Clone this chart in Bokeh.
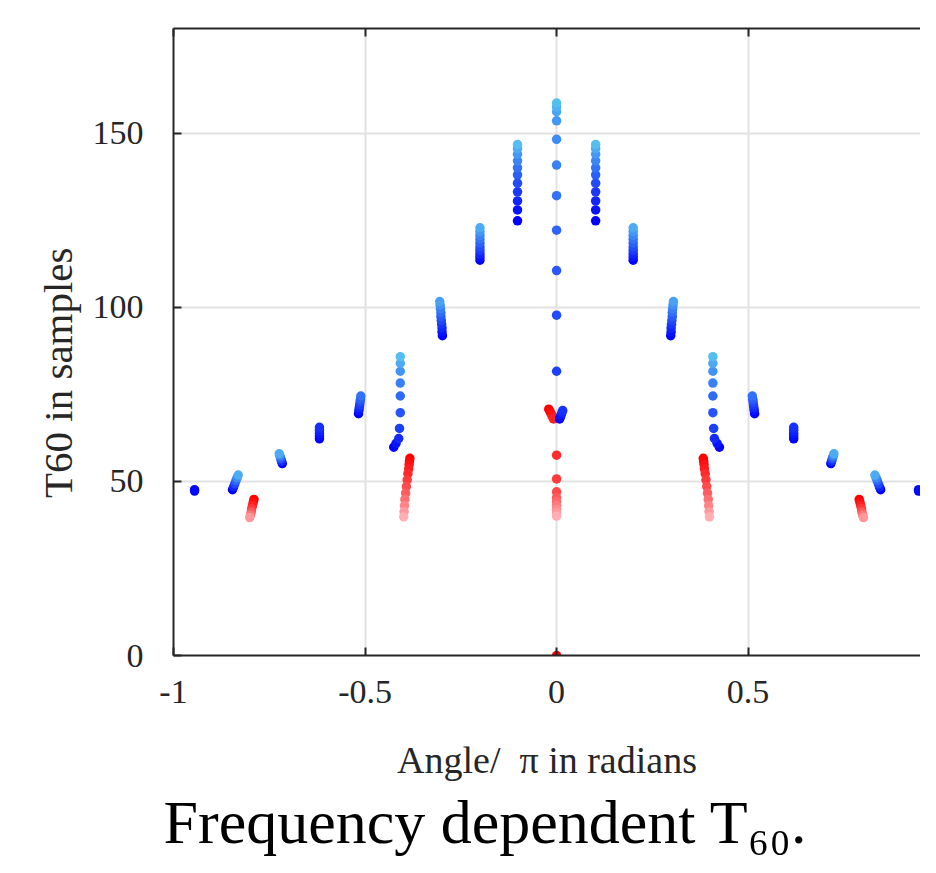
import math
from bokeh.plotting import figure
from bokeh.models import (Range1d, FixedTicker, LinearAxis, NumeralTickFormatter, ColumnDataSource,
                          Title, CustomJSTickFormatter)
from bokeh.embed import file_html
from bokeh.resources import INLINE

# ---------------- data (angle / pi, T60 in samples) ----------------
x_ticks = [-1, -0.5, 0, 0.5]
y_ticks = [0, 50, 100, 150]

# centre column (angle 0)
c_blue_x = [0.008, 0.010, 0.012, 0.014, 0.016, 0, 0, 0, 0, 0, 0, 0, 0, 0, 0, 0]
c_blue_y = [67.9, 68.5, 69.1, 69.7, 70.3, 81.6, 97.7, 110.5, 122.1, 132.0, 140.8, 148.2, 153.5, 156.1, 157.5, 158.6]
c_red_x = [-0.0205, -0.017, -0.014, -0.011, -0.008, 0, 0, 0, 0, 0, 0, 0, 0, 0]
c_red_y = [70.7, 70.0, 69.3, 68.6, 67.9, 57.5, 50.7, 47.0, 45.3, 44.2, 43.1, 42.0, 41.0, 40.0]
zero_x = [0]
zero_y = [0]

# blue clusters, right side (left side is the conjugate)
b1_x = [0.102, 0.102, 0.102, 0.102, 0.102, 0.102, 0.102, 0.102, 0.102, 0.102, 0.102]
b1_y = [124.8, 127.9, 130.5, 133.1, 135.6, 138.0, 140.0, 142.0, 143.9, 145.5, 146.7]
b2_x = [0.2, 0.2, 0.2, 0.2, 0.2, 0.2, 0.2, 0.2, 0.2, 0.2]
b2_y = [113.5, 114.4, 115.3, 116.3, 117.3, 118.4, 119.5, 120.6, 121.7, 122.8]
b3_x = [0.298, 0.299, 0.299, 0.300, 0.301, 0.302, 0.302, 0.303, 0.304, 0.305]
b3_y = [91.8, 92.9, 94.0, 95.1, 96.2, 97.3, 98.4, 99.5, 100.6, 101.6]
b4_x = [0.425, 0.419, 0.412, 0.410, 0.408, 0.408, 0.408, 0.408, 0.408, 0.408]
b4_y = [59.8, 60.9, 62.3, 65.2, 69.7, 74.5, 78.2, 81.6, 83.9, 85.8]
b5_x = [0.517, 0.516, 0.515, 0.514, 0.513, 0.512, 0.511]
b5_y = [69.4, 70.3, 71.1, 71.9, 72.8, 73.6, 74.5]
b6_x = [0.619, 0.619, 0.619, 0.619, 0.619]
b6_y = [62.2, 63.0, 63.8, 64.7, 65.5]
b7_x = [0.716, 0.718, 0.720, 0.722, 0.724]
b7_y = [55.1, 55.8, 56.5, 57.2, 57.9]
b8_x = [0.846, 0.843, 0.840, 0.837, 0.834, 0.831]
b8_y = [47.6, 48.4, 49.3, 50.2, 51.0, 51.8]
b9_x = [0.945, 0.945]
b9_y = [47.2, 47.6]

# red clusters, right side (top to bottom)
r1_x = [0.383, 0.384, 0.385, 0.386, 0.388, 0.390, 0.392, 0.394, 0.396, 0.397, 0.398, 0.399]
r1_y = [56.6, 55.7, 54.8, 53.6, 52.2, 50.4, 48.5, 46.6, 44.8, 43.0, 41.3, 39.8]
r2_x = [0.790, 0.792, 0.794, 0.796, 0.797, 0.799, 0.801]
r2_y = [44.8, 43.9, 43.0, 42.1, 41.2, 40.3, 39.6]

x_title = "Angle/\u00a0 \u03c0 in radians"
y_title = "T60 in samples"
main_title = "Frequency dependent T\u2086\u2080."

# ---------------- styling helpers ----------------
def blue(t):
    return "#%02x%02x%02x" % (round(85 * t), round(190 * t), round(255 - 15 * t))

def red(t):
    t = t ** 1.4
    return "#%02x%02x%02x" % (255, round(175 * t), round(180 * t))

def colours(n, fn, tmax):
    if n == 1:
        return [fn(0)]
    return [fn(tmax * i / (n - 1)) for i in range(n)]

AX = "#262626"
SERIF = "Liberation Serif"

p = figure(width=920, height=857, x_range=Range1d(-1, 0.95), y_range=Range1d(0, 180),
           output_backend="svg", toolbar_location=None,
           min_border_left=173, min_border_right=0, min_border_top=28, min_border_bottom=202)
p.outline_line_color = None
p.background_fill_color = "white"
p.border_fill_color = "white"

bottom_axis = p.below[0]
left_axis = p.left[0]
top_axis = LinearAxis()
p.add_layout(top_axis, "above")

for ax in [bottom_axis, left_axis, top_axis]:
    ax.axis_line_color = AX
    ax.axis_line_width = 2
    ax.major_tick_in = 8
    ax.major_tick_out = 0
    ax.minor_tick_in = 0
    ax.minor_tick_out = 0
    ax.major_tick_line_color = AX
    ax.major_tick_line_width = 2
    ax.major_label_text_font = SERIF
    ax.major_label_text_font_size = "34px"
    ax.major_label_text_color = AX
    ax.axis_label_text_font = SERIF
    ax.axis_label_text_font_style = "normal"
    ax.axis_label_text_color = AX

bottom_axis.ticker = FixedTicker(ticks=x_ticks)
bottom_axis.formatter = NumeralTickFormatter(format="0.[0]")
bottom_axis.major_label_standoff = 25
bottom_axis.axis_label = x_title
bottom_axis.axis_label_text_font_size = "38px"
bottom_axis.axis_label_standoff = 33

top_axis.ticker = FixedTicker(ticks=x_ticks)
top_axis.formatter = CustomJSTickFormatter(code="return ''")
top_axis.major_label_standoff = 0

left_axis.ticker = FixedTicker(ticks=y_ticks)
left_axis.major_label_standoff = 30
left_axis.axis_label = y_title + "\u00a0" * 6
left_axis.axis_label_text_font_size = "41px"
left_axis.axis_label_standoff = 9

for g in [p.xgrid[0], p.ygrid[0]]:
    g.grid_line_color = "#e2e2e2"
    g.grid_line_width = 2

title = Title(text=main_title, align="left", offset=-10, standoff=4,
              text_font=SERIF, text_font_size="62px", text_font_style="normal",
              text_color="black")
p.add_layout(title, "below")

SIZE = 9.5

def draw(xs, ys, cols):
    src = ColumnDataSource(dict(x=xs, y=ys, c=cols))
    p.scatter("x", "y", source=src, size=SIZE, fill_color="c", line_color=None)

# red first
draw(zero_x, zero_y, [red(0)])
draw(c_red_x, c_red_y, colours(len(c_red_y), red, 1.0))
for (xs, ys, tm) in [(r1_x, r1_y, 1.0), (r2_x, r2_y, 0.9)]:
    cols = colours(len(ys), red, tm)
    draw(xs, ys, cols)
    draw([-v for v in xs], ys, cols)

draw(c_blue_x, c_blue_y, colours(len(c_blue_y), blue, 1.0))
for (xs, ys, tm) in [(b1_x, b1_y, 1.0), (b2_x, b2_y, 0.9), (b3_x, b3_y, 0.85),
                     (b4_x, b4_y, 1.0), (b5_x, b5_y, 0.6), (b6_x, b6_y, 0.25),
                     (b7_x, b7_y, 0.9), (b8_x, b8_y, 0.9), (b9_x, b9_y, 0.05)]:
    cols = colours(len(ys), blue, tm)
    draw(xs, ys, cols)
    draw([-v for v in xs], ys, cols)

open("out.html", "w").write(file_html(p, INLINE))
